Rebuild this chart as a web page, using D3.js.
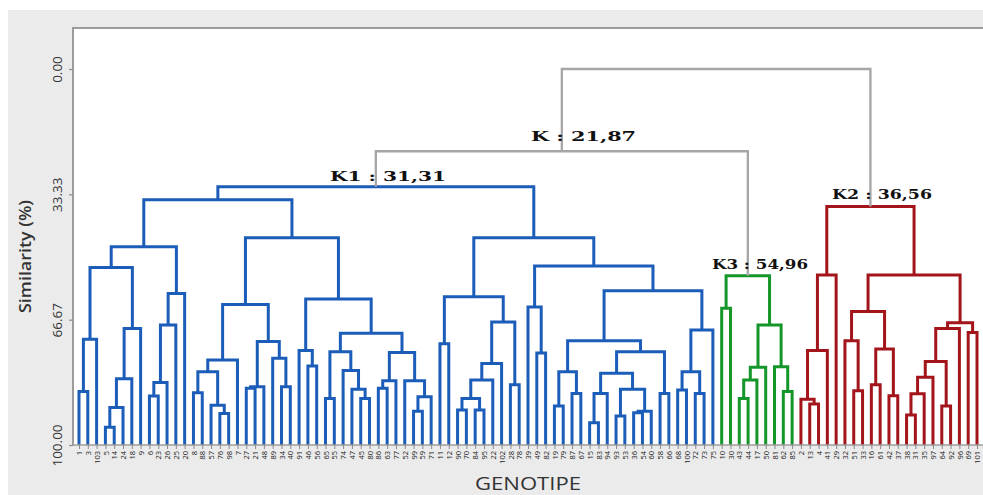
<!DOCTYPE html>
<html><head><meta charset="utf-8">
<script src="https://cdn.jsdelivr.net/npm/d3@7"></script>
<style>body{margin:0;background:#fff}svg{display:block}</style>
</head><body>
<svg id="c" width="983" height="495"></svg>
<script>
// ---------- DATA ----------
const leafLabels = [1,3,103,5,14,24,18,9,6,23,26,25,20,
  8,88,57,76,98,7,27,21,48,89,34,40,
  91,46,56,65,55,74,47,45,80,86,63,77,52,99,59,71,
  11,12,90,70,84,95,22,102,28,78,39,49,82,19,79,87,67,15,83,94,93,53,36,54,60,58,66,68,100,72,73,75,
  10,30,43,44,17,50,81,62,85,
  2,13,4,41,29,32,51,33,16,61,42,37,38,31,35,97,64,92,96,69,101];
const yTicks = [0, 33.33, 66.67, 100];
// merges: [name, left, right, similarity]; numeric children are leaf indexes
const mergesK1 = [
 ["m1",0,1,85.8],["m2","m1",2,71.9],["m3",3,4,95.3],["m4","m3",5,90.0],["m5","m4",6,82.4],
 ["m6","m5",7,69.0],["m7","m2","m6",52.8],["m8",8,9,87.0],["m9","m8",10,83.4],["m10","m9",11,68.1],
 ["m11","m10",12,59.7],["m12","m7","m11",47.3],["m13",13,14,86.1],["m14",16,17,91.6],["m15",15,"m14",89.4],
 ["m16","m13","m15",80.5],["m17","m16",18,77.4],["m18",19,20,84.9],["m19","m18",21,84.5],["m20",23,24,84.5],
 ["m21",22,"m20",76.9],["m22","m19","m21",72.5],["m23","m17","m22",62.6],["m24",26,27,79.0],["m25",25,"m24",74.9],
 ["m26",28,29,87.6],["m27",32,33,87.6],["m28",31,"m27",85.2],["m29",30,"m28",80.2],["m30","m26","m29",75.2],
 ["m31",34,35,84.9],["m32","m31",36,82.9],["m33",38,39,91.0],["m34","m33",40,87.2],["m35",37,"m34",82.9],
 ["m36","m32","m35",75.4],["m37","m30","m36",70.3],["m38","m25","m37",61.2],["m39","m23","m38",44.9],
 ["m40","m12","m39",34.8],
 ["m41",41,42,73.1],["m42",43,44,90.7],["m43",45,46,90.7],["m44","m42","m43",87.6],["m45","m44",47,82.7],
 ["m46","m45",48,78.3],["m47",49,50,84.0],["m48","m46","m47",67.3],["m49","m41","m48",60.6],["m50",52,53,75.5],
 ["m51",51,"m50",63.3],["m52",54,55,89.6],["m53",56,57,86.3],["m54","m52","m53",80.5],["m55",58,59,94.1],
 ["m56","m55",60,86.3],["m57",61,62,92.3],["m58",63,64,91.4],["m59","m58",65,91.0],["m60","m57","m59",85.2],
 ["m61","m56","m60",80.9],["m62",66,67,86.3],["m63","m61","m62",75.2],["m64","m54","m63",72.3],["m65",68,69,85.4],
 ["m66",70,71,86.3],["m67","m65","m66",80.5],["m68","m67",72,69.4],["m69","m64","m68",59.0],["m70","m51","m69",52.4],
 ["m71","m49","m70",44.9],["K1","m40","m71",31.31]];
const mergesK3 = [
 ["g1",73,74,63.6],["g2",75,76,87.6],["g3","g2",77,82.7],["g4","g3",78,79.3],["g5",80,81,85.8],
 ["g6",79,"g5",79.2],["g7","g4","g6",68.1],["K3","g1","g7",54.96]];
const mergesK2 = [
 ["r1",83,84,89.1],["r2",82,"r1",87.8],["r3","r2",85,74.9],["r4","r3",86,54.8],["r5",88,89,85.6],
 ["r6",87,"r5",72.3],["r7",90,91,84.0],["r8",92,93,86.9],["r9","r7","r8",74.5],["r10","r6","r9",64.5],
 ["r11",94,95,92.0],["r12","r11",96,86.4],["r13","r12",97,82.0],["r14",98,99,89.6],["r15","r13","r14",77.8],
 ["r16","r15",100,69.0],["r17",101,102,70.1],["r18","r16","r17",67.5],["r19","r10","r18",54.8],["K2","r4","r19",36.56]];
const mergesTop = [["K","K1","K3",21.87],["root","K","K2",0]];
const clusterNotes = ["K : 21,87","K1 : 31,31","K2 : 36,56","K3 : 54,96"];

// ---------- CHART ----------
(function(){
const svg = d3.select("#c");
const W = 983, H = 495;
const pLeft = 73, pTop = 28, pBase = 445;

svg.append("rect").attr("x",8).attr("y",10).attr("width",W-8).attr("height",H-10).attr("fill","#ebebeb");
svg.append("rect").attr("x",pLeft).attr("y",pTop).attr("width",W-pLeft).attr("height",pBase-pTop).attr("fill","#fff");
svg.append("path").attr("d",`M${W},${pTop}H${pLeft}V${pBase}`).attr("fill","none").attr("stroke","#9c9c9c").attr("stroke-width",2);

const x = d3.scalePoint().domain(d3.range(leafLabels.length)).range([79, 977]);
const y = d3.scaleLinear().domain([0,100]).range([69, pBase]);

const nodes = new Map();
function pos(c){ return typeof c === "number" ? {x:x(c), s:100} : nodes.get(c); }
const groups = [
  {list: mergesK1, color:"#1b5db8", w:3},
  {list: mergesK3, color:"#15962a", w:3},
  {list: mergesK2, color:"#a3151b", w:3},
  {list: mergesTop, color:"#a6a6a6", w:2.3}
];
const links = [];
groups.forEach(g => g.list.forEach(([name,a,b,s]) => {
  const pa = pos(a), pb = pos(b);
  nodes.set(name, {x:(pa.x+pb.x)/2, s});
  links.push({pa, pb, s, color:g.color, w:g.w});
}));

svg.append("g").selectAll("path").data(links).join("path")
  .attr("d", d => `M${d.pa.x},${y(d.pa.s)}V${y(d.s)}H${d.pb.x}V${y(d.pb.s)}`)
  .attr("fill","none").attr("stroke", d=>d.color).attr("stroke-width", d=>d.w)
  .attr("stroke-linejoin","miter");

svg.append("line").attr("x1",pLeft).attr("x2",W).attr("y1",pBase).attr("y2",pBase)
  .attr("stroke","#9c9c9c").attr("stroke-width",1.6);

const ya = svg.append("g").attr("transform",`translate(${pLeft},0)`)
  .call(d3.axisLeft(y).tickValues(yTicks).tickFormat(d3.format(".2f")).tickSize(4));
ya.select(".domain").remove();
ya.selectAll("line").attr("stroke","#8a8a8a").attr("stroke-width",1.2);
ya.selectAll("text").attr("transform","rotate(-90)").attr("x",0).attr("y",-11).attr("dy",0)
  .attr("text-anchor","middle").attr("fill","#333").style("font","13.5px 'Open Sans', sans-serif");

const xa = svg.append("g").attr("transform",`translate(0,${pBase})`)
  .call(d3.axisBottom(x).tickFormat(i => leafLabels[i]).tickSize(4));
xa.select(".domain").remove();
xa.selectAll("line").attr("stroke","#8a8a8a");
xa.selectAll("text").attr("transform","rotate(-90)").attr("x",-6).attr("y",0).attr("dy","0.35em")
  .attr("text-anchor","end").attr("fill","#222").style("font","7.5px 'Open Sans', sans-serif");

svg.append("text").attr("transform","translate(31,256.5) rotate(-90)").attr("text-anchor","middle")
  .attr("textLength",113).attr("lengthAdjust","spacingAndGlyphs")
  .attr("fill","#333").style("font","600 15.5px 'Open Sans', sans-serif").text("Similarity (%)");
svg.append("text").attr("x",528).attr("y",490).attr("text-anchor","middle")
  .attr("textLength",106).attr("lengthAdjust","spacingAndGlyphs")
  .attr("fill","#333").style("font","19px 'Open Sans', sans-serif").text("GENOTIPE");

const notePos = [[583.5,141,105],[388,181,116],[882,199,100],[760,269,96]];
svg.append("g").selectAll("text").data(clusterNotes).join("text")
  .attr("x",(d,i)=>notePos[i][0]).attr("y",(d,i)=>notePos[i][1])
  .attr("text-anchor","middle").attr("textLength",(d,i)=>notePos[i][2]).attr("lengthAdjust","spacingAndGlyphs")
  .attr("fill","#111").style("font","bold 13.5px 'DejaVu Serif', serif").text(d=>d);
})();
</script>
</body></html>
